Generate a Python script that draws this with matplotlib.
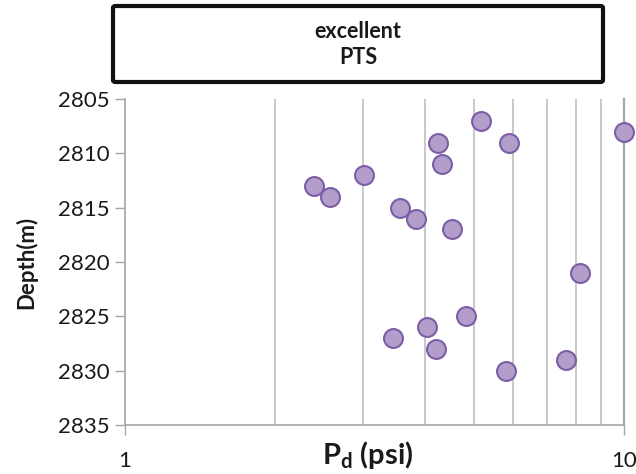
import matplotlib
matplotlib.use('Agg')
import matplotlib.pyplot as plt
from matplotlib.patches import FancyBboxPatch
from matplotlib.ticker import FixedLocator, NullFormatter

plt.rcParams['font.family'] = ['Lato', 'DejaVu Sans']
plt.rcParams['mathtext.fontset'] = 'custom'
plt.rcParams['mathtext.rm'] = 'Lato:bold'

# Pd (psi) vs depth (m)
pd_psi = [5.17, 10.0, 4.24, 5.88, 4.32, 3.01, 2.39, 2.57, 3.56, 3.83,
          4.52, 8.16, 4.83, 4.03, 3.44, 4.20, 7.65, 5.79]
depth = [2807, 2808, 2809, 2809, 2811, 2812, 2813, 2814, 2815, 2816,
         2817, 2821, 2825, 2826, 2827, 2828, 2829, 2830]
y_ticks = [2805, 2810, 2815, 2820, 2825, 2830, 2835]
grid_x = [2, 3, 4, 5, 6, 7, 8, 9]

fig = plt.figure(figsize=(6.36, 4.74), dpi=100)
ax = fig.add_axes([0.1965, 0.1034, 0.7845, 0.6876])

ax.set_xscale('log')
ax.set_xlim(1, 10)
ax.set_ylim(2835, 2805)

for g in grid_x:
    ax.axvline(g, color='#c8c8c8', lw=1.4, zorder=1)
ax.axvline(10, color='#a6a6a6', lw=1.6, zorder=1, clip_on=False)

ax.scatter(pd_psi, depth, s=185, facecolor='#b39dcb', edgecolor='#7b5ea5',
           linewidths=1.5, zorder=3, clip_on=False)

ax.set_yticks(y_ticks)
ax.set_xticks([1, 10])
ax.set_xticklabels(['1', '10'])
ax.xaxis.set_minor_locator(FixedLocator([]))
ax.xaxis.set_minor_formatter(NullFormatter())
ax.tick_params(axis='y', direction='out', length=7, width=1, color='#a6a6a6',
               labelsize=16, labelcolor='#1a1a1a', pad=4)
ax.tick_params(axis='x', direction='out', length=7, width=1, color='#a6a6a6',
               labelsize=16, labelcolor='#1a1a1a', pad=12)

for side in ['top', 'right']:
    ax.spines[side].set_visible(False)
for side in ['left', 'bottom']:
    ax.spines[side].set_color('#a6a6a6')
    ax.spines[side].set_linewidth(1.2)

ax.set_ylabel('Depth(m)', fontsize=16, fontweight='bold', color='#1a1a1a', labelpad=15)
fig.text(368 / 636, 1 - 455 / 474, r'P$\mathregular{_d}$ (psi)', ha='center', va='center',
         fontsize=21, fontweight='bold', color='#1a1a1a')

box = FancyBboxPatch((113 / 636, 1 - 82 / 474), (603 - 113) / 636, (82 - 6) / 474,
                     boxstyle='round,pad=0,rounding_size=0.004',
                     transform=fig.transFigure, facecolor='white',
                     edgecolor='#111111', linewidth=3)
fig.patches.append(box)
fig.text(358 / 636, 1 - 32 / 474, 'excellent', ha='center', va='center',
         fontsize=15.5, fontweight='bold', color='#1a1a1a')
fig.text(358 / 636, 1 - 58 / 474, 'PTS', ha='center', va='center',
         fontsize=15.5, fontweight='bold', color='#1a1a1a')

fig.savefig('out.png', dpi=100)
